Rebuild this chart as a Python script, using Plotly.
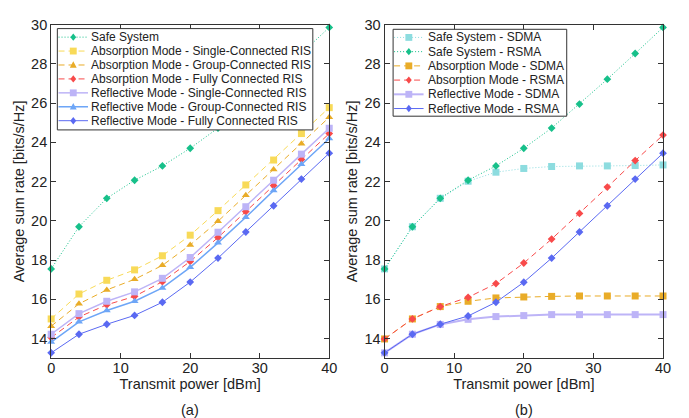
import plotly.graph_objects as go

# Transmit power sweep [dBm]
power = [0, 4, 8, 12, 16, 20, 24, 28, 32, 36, 40]

# (a) RIS architectures, average sum rate [bits/s/Hz]
safe_system = [17.55, 19.7, 21.15, 22.07, 22.8, 23.7, 24.73, 25.95, 27.22, 28.53, 29.86]
abs_single = [15.0, 16.27, 16.97, 17.5, 18.22, 19.27, 20.52, 21.83, 23.1, 24.45, 25.77]
abs_group = [14.63, 15.77, 16.48, 17.02, 17.73, 18.77, 19.98, 21.3, 22.62, 23.93, 25.28]
abs_fully = [14.05, 15.1, 15.72, 16.15, 16.9, 17.93, 19.15, 20.47, 21.8, 23.13, 24.45]
ref_single = [14.22, 15.27, 15.9, 16.38, 17.07, 18.13, 19.42, 20.72, 22.07, 23.4, 24.72]
ref_group = [13.82, 14.85, 15.43, 15.9, 16.58, 17.63, 18.88, 20.18, 21.55, 22.88, 24.2]
ref_fully = [13.27, 14.22, 14.73, 15.18, 15.85, 16.88, 18.1, 19.43, 20.77, 22.13, 23.45]

# (b) SDMA vs RSMA, average sum rate [bits/s/Hz]
safe_sdma = [17.55, 19.7, 21.15, 22.02, 22.48, 22.67, 22.77, 22.8, 22.8, 22.82, 22.85]
safe_rsma = [17.55, 19.7, 21.15, 22.07, 22.8, 23.7, 24.73, 25.95, 27.22, 28.53, 29.86]
abs_sdma = [13.98, 15.0, 15.63, 15.9, 16.07, 16.12, 16.15, 16.17, 16.17, 16.17, 16.17]
abs_rsma = [13.98, 15.0, 15.63, 16.1, 16.8, 17.85, 19.07, 20.38, 21.72, 23.07, 24.37]
ref_sdma = [13.27, 14.22, 14.72, 14.98, 15.12, 15.17, 15.22, 15.22, 15.22, 15.22, 15.22]
ref_rsma = [13.27, 14.22, 14.73, 15.15, 15.85, 16.87, 18.1, 19.43, 20.77, 22.13, 23.45]

x_ticks = [0, 10, 20, 30, 40]
y_ticks = [14, 16, 18, 20, 22, 24, 26, 28, 30]

W, H = 689, 418
FONT = "Liberation Sans, Arial, sans-serif"

GREEN = "#17c08a"
CYAN = "#8ddcdf"
YELLOW = "#f8da58"
ORANGE = "#e9ac28"
RED = "#f84a4a"
LAVENDER = "#bdb4f7"
LIGHTBLUE = "#6ea6f7"
BLUE = "#5a69f2"

DOT = "1px,2px"
DASH = "6px,4px"

# name, values, color, dash, width, symbol
series_a = [
    ("Safe System", safe_system, GREEN, DOT, 1, "diamond"),
    ("Absorption Mode - Single-Connected RIS", abs_single, YELLOW, DASH, 1, "square"),
    ("Absorption Mode - Group-Connected RIS", abs_group, ORANGE, DASH, 1, "triangle-up"),
    ("Absorption Mode - Fully Connected RIS", abs_fully, RED, DASH, 1, "diamond"),
    ("Reflective Mode - Single-Connected RIS", ref_single, LAVENDER, "solid", 1.5, "square"),
    ("Reflective Mode - Group-Connected RIS", ref_group, LIGHTBLUE, "solid", 1.5, "triangle-up"),
    ("Reflective Mode - Fully Connected RIS", ref_fully, BLUE, "solid", 1, "diamond"),
]
series_b = [
    ("Safe System - SDMA", safe_sdma, CYAN, DOT, 1, "square"),
    ("Safe System - RSMA", safe_rsma, GREEN, DOT, 1, "diamond"),
    ("Absorption Mode - SDMA", abs_sdma, ORANGE, DASH, 1, "square"),
    ("Absorption Mode - RSMA", abs_rsma, RED, DASH, 1, "diamond"),
    ("Reflective Mode - SDMA", ref_sdma, LAVENDER, "solid", 2, "square"),
    ("Reflective Mode - RSMA", ref_rsma, BLUE, "solid", 1, "diamond"),
]

MSIZE = {"square": 7, "triangle-up": 7, "diamond": 6}

fig = go.Figure()
for (xa, ya), series in ((("x", "y"), series_a), (("x2", "y2"), series_b)):
    for name, vals, color, dash, width, sym in series:
        fig.add_trace(go.Scatter(
            x=power, y=vals, name=name, xaxis=xa, yaxis=ya,
            mode="lines+markers", cliponaxis=False, showlegend=False,
            line=dict(color=color, width=width, dash=dash),
            marker=dict(symbol=sym, size=MSIZE[sym], color=color, line=dict(width=0)),
        ))

# plot areas in pixels
left_px = (48, 331)
right_px = (387.3, 670.7)
top_px, bottom_px = 17, 357

def fx(p):
    return p / W

def fy(p):
    return 1 - p / H

axis_common = dict(
    showline=True, linecolor="#333333", linewidth=1, mirror="ticks",
    ticks="inside", ticklen=5, tickwidth=1, tickcolor="#333333",
    showgrid=False, zeroline=False,
    tickfont=dict(family=FONT, size=14.5, color="#222222"),
)
xtitle = dict(text="Transmit power [dBm]", font=dict(family=FONT, size=14.5, color="#222222"), standoff=2)
ytitle = dict(text="Average sum rate [bits/s/Hz]", font=dict(family=FONT, size=14.5, color="#222222"), standoff=3)

ydom = [fy(bottom_px), fy(top_px)]
fig.update_layout(
    width=W, height=H, margin=dict(l=0, r=0, t=0, b=0),
    paper_bgcolor="white", plot_bgcolor="white",
    font=dict(family=FONT, color="#222222"),
    xaxis=dict(domain=[fx(left_px[0]), fx(left_px[1])], range=[0, 40], tickvals=x_ticks,
               anchor="y", title=xtitle, ticklabelstandoff=-4, **axis_common),
    yaxis=dict(domain=ydom, range=[13, 30], tickvals=y_ticks, anchor="x", title=ytitle, **axis_common),
    xaxis2=dict(domain=[fx(right_px[0]), fx(right_px[1])], range=[0, 40], tickvals=x_ticks,
                anchor="y2", title=xtitle, ticklabelstandoff=-4, **axis_common),
    yaxis2=dict(domain=ydom, range=[13, 30], tickvals=y_ticks, anchor="x2", title=ytitle, **axis_common),
    showlegend=False,
)

# legend boxes drawn as shapes + annotations
shapes = []
annotations = []

def marker_path(cx, cy, sym, s):
    h = s / 2
    if sym == "square":
        pts = [(cx - h, cy - h), (cx + h, cy - h), (cx + h, cy + h), (cx - h, cy + h)]
    elif sym == "diamond":
        d = h * 1.25
        pts = [(cx, cy - d), (cx + d * 0.8, cy), (cx, cy + d), (cx - d * 0.8, cy)]
    else:
        pts = [(cx - h, cy + h * 0.8), (cx + h, cy + h * 0.8), (cx, cy - h * 1.1)]
    return "M" + " L".join(f"{fx(a):.5f},{fy(b):.5f}" for a, b in pts) + " Z"

def add_legend(series, box, row0, step, line_x, text_x):
    x0, y0, x1, y1 = box
    shapes.append(dict(type="rect", xref="paper", yref="paper", layer="above",
                       x0=fx(x0), x1=fx(x1), y0=fy(y1), y1=fy(y0),
                       fillcolor="white", line=dict(color="#333333", width=1)))
    for i, (name, vals, color, dash, width, sym) in enumerate(series):
        cy = row0 + i * step
        shapes.append(dict(type="line", xref="paper", yref="paper", layer="above",
                           x0=fx(line_x[0]), x1=fx(line_x[1]), y0=fy(cy), y1=fy(cy),
                           line=dict(color=color, width=width, dash=dash)))
        cx = (line_x[0] + line_x[1]) / 2
        shapes.append(dict(type="path", xref="paper", yref="paper", layer="above",
                           path=marker_path(cx, cy, sym, MSIZE[sym]),
                           fillcolor=color, line=dict(width=0)))
        annotations.append(dict(x=fx(text_x), y=fy(cy), xref="paper", yref="paper",
                                text=name, showarrow=False, xanchor="left", yanchor="middle",
                                font=dict(family=FONT, size=12, color="#222222")))

add_legend(series_a, (54.3, 21, 314.3, 124.3), 29.7, 14.2, (55.5, 85.5), 87)
add_legend(series_b, (396, 21.7, 572.7, 110.3), 30, 14.5, (397, 427), 429.5)

for label, (a, b) in (("(a)", left_px), ("(b)", right_px)):
    annotations.append(dict(x=fx((a + b) / 2), y=fy(410), xref="paper", yref="paper",
                            text=label, showarrow=False, xanchor="center", yanchor="middle",
                            font=dict(family=FONT, size=14.5, color="#222222")))

fig.update_layout(shapes=shapes, annotations=annotations)
fig.write_html("out.html")
